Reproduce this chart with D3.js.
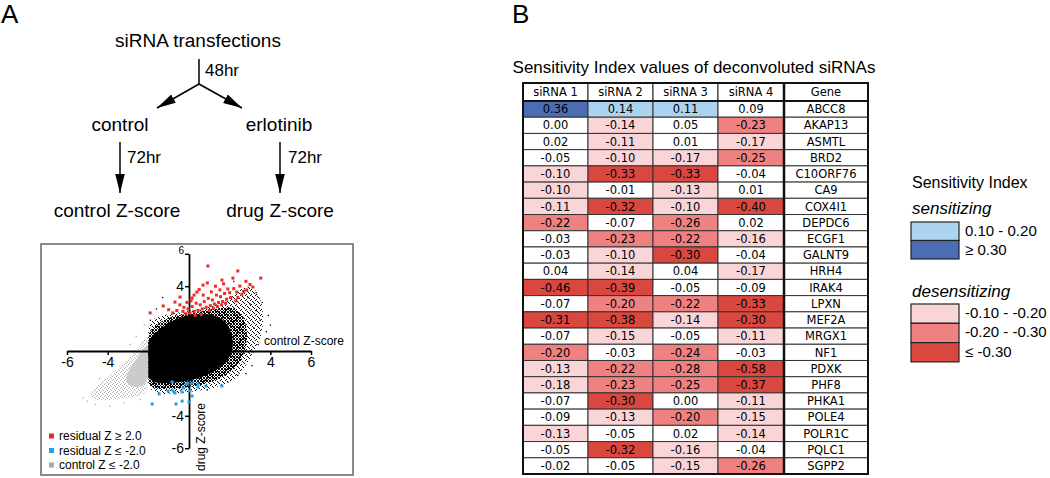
<!DOCTYPE html>
<html><head><meta charset="utf-8">
<script src="https://cdn.jsdelivr.net/npm/d3@7"></script>
<style>
html,body{margin:0;padding:0;background:#fff;}
svg{display:block;font-family:"Liberation Sans",Arial,sans-serif;}
</style></head><body>
<svg id="fig" width="1050" height="478"></svg>
<script>
// ---------------- DATA ----------------
const columns = ["siRNA 1","siRNA 2","siRNA 3","siRNA 4","Gene"];
const genes = ["ABCC8","AKAP13","ASMTL","BRD2","C10ORF76","CA9","COX4I1","DEPDC6","ECGF1","GALNT9","HRH4","IRAK4","LPXN","MEF2A","MRGX1","NF1","PDXK","PHF8","PHKA1","POLE4","POLR1C","PQLC1","SGPP2"];
const siRNA1 = [0.36,0.00,0.02,-0.05,-0.10,-0.10,-0.11,-0.22,-0.03,-0.03,0.04,-0.46,-0.07,-0.31,-0.07,-0.20,-0.13,-0.18,-0.07,-0.09,-0.13,-0.05,-0.02];
const siRNA2 = [0.14,-0.14,-0.11,-0.10,-0.33,-0.01,-0.32,-0.07,-0.23,-0.10,-0.14,-0.39,-0.20,-0.38,-0.15,-0.03,-0.22,-0.23,-0.30,-0.13,-0.05,-0.32,-0.05];
const siRNA3 = [0.11,0.05,0.01,-0.17,-0.33,-0.13,-0.10,-0.26,-0.22,-0.30,0.04,-0.05,-0.22,-0.14,-0.05,-0.24,-0.28,-0.25,0.00,-0.20,0.02,-0.16,-0.15];
const siRNA4 = [0.09,-0.23,-0.17,-0.25,-0.04,0.01,-0.40,0.02,-0.16,-0.04,-0.17,-0.09,-0.33,-0.30,-0.11,-0.03,-0.58,-0.37,-0.11,-0.15,-0.14,-0.04,-0.26];

const legendGroups = ["sensitizing","desensitizing"];
const sensLabels = ["0.10 - 0.20","\u2265 0.30"];
const desensLabels = ["-0.10 - -0.20","-0.20 - -0.30","\u2264 -0.30"];

// scatter (in Z-score units)
const xTicks = [-6,-4,-2,2,4,6];
const yTicks = [-6,-4,-2,2,4,6];
const scatterLegend = ["residual Z \u2265 2.0","residual Z \u2264 -2.0","control Z \u2264 -2.0"];
const grayOuter = [[-1.9,1.4],[-2.3,0.5],[-3.0,-0.5],[-3.8,-1.4],[-4.6,-2.2],[-5.0,-2.8],[-4.5,-3.1],[-3.5,-3.0],[-2.5,-2.8],[-1.9,-2.6]];
const grayCore = [[-1.9,0.8],[-2.4,-0.2],[-2.9,-1.0],[-3.2,-1.8],[-2.8,-2.3],[-1.9,-2.2]];
const blackOuter = [[-2.2,1.7],[-1.43,2.2],[-0.69,2.35],[0.29,2.5],[1.28,2.8],[2.0,3.2],[2.6,3.9],[3.1,4.1],[3.6,3.2],[3.7,1.6],[3.4,0.3],[2.8,-0.9],[2.3,-1.8],[1.3,-2.3],[0.05,-2.55],[-1.2,-2.7],[-2.2,-2.6]];
const blackMid = [[-2.2,1.0],[-1.5,1.8],[-0.7,2.2],[0.3,2.35],[1.3,2.6],[2.2,2.8],[2.8,2.0],[2.9,0.6],[2.6,-0.6],[2.0,-1.4],[1.1,-1.95],[0.0,-2.25],[-1.2,-2.35],[-2.2,-2.35]];
const blackCore = [[-2.2,0.5],[-1.6,1.2],[-1.0,1.75],[-0.4,2.1],[0.3,2.3],[1.0,2.3],[1.6,2.05],[2.0,1.5],[2.2,0.6],[2.1,-0.3],[1.6,-1.0],[0.9,-1.5],[0.0,-1.85],[-1.0,-2.0],[-2.2,-2.0]];
const blackOutliers = [[3.0,2.9],[3.3,2.5],[3.5,1.9],[3.2,1.4],[3.8,1.2],[2.9,3.3],[3.6,3.0],[4.0,1.6],[2.8,-1.4],[3.1,-0.9],[-1.6,2.6],[-1.9,1.9],[0.9,-2.4],[1.9,-1.9],[2.4,-1.5],[-1.3,3.3],[3.4,0.4],[3.9,2.2],[2.2,4.3],[3.3,3.6]];
const grayOutliers = [[-5.0,-3.1],[-4.6,-3.3],[-3.9,-3.4],[-5.2,-2.9],[-3.2,-3.2],[-4.4,-1.7],[-3.7,-0.6],[-2.6,0.9],[-2.2,1.6],[-2.9,0.4],[-2.4,-3.0]];
const redPoints = [[0.93,5.25],[2.40,4.94],[3.53,4.50],[1.62,4.38],[2.16,4.50],[0.69,4.07],[0.15,3.27],[-0.69,3.02],[-1.27,2.78],[-1.91,2.35],[-0.44,3.33],[0.39,3.64],[1.52,3.77],[1.91,3.83],[2.50,4.01],[3.14,3.95],[2.84,3.77],[2.35,3.64],
 [0.05,2.35],[0.25,2.45],[0.45,2.5],[0.65,2.6],[0.85,2.7],[1.05,2.8],[1.25,2.9],[1.45,3.0],[1.65,3.05],[1.85,3.2],[2.05,3.3],[0.15,2.75],[0.35,2.95],[0.55,2.85],[0.75,3.05],[0.95,3.25],[1.15,3.15],[1.35,3.45],[1.55,3.35],[1.75,3.55],[2.0,3.6],[2.2,3.85],[2.6,3.5],[-0.05,2.6],[-0.25,2.7],[-0.3,2.45],[0.25,3.45],[0.7,3.45],[1.1,3.65],[1.3,4.0],[0.9,4.2],[1.7,4.15],[2.8,4.3],[-0.6,2.5],[-0.1,3.0],[0.5,3.8],[2.4,3.3],[1.0,2.5],[0.6,2.25],[0.3,2.2],[-0.15,2.3],[1.2,2.65],[1.4,2.75],[1.6,2.85],[1.8,2.95],[0.1,3.1],[-0.45,2.85],[2.3,3.1],[2.7,3.7],[3.0,4.1],[-1.0,2.55],[-0.8,2.35]];
const bluePoints = [[-0.83,-1.91],[-0.15,-2.04],[-0.05,-1.98],[0.15,-1.98],[0.44,-2.04],[0.83,-2.16],[1.62,-2.16],[0.44,-2.22],[-1.03,-2.47],[-0.78,-2.47],[-0.69,-2.59],[-0.34,-2.53],[-0.29,-2.28],[0.05,-2.47],[-1.47,-2.65],[0.15,-2.78],[-0.34,-3.09],[0.0,-3.15],[-1.81,-3.27],[-0.64,-3.27]];

// ---------------- DRAW ----------------
const svg = d3.select("#fig");
const defs = svg.append("defs");
function pat(id, size, cells, color){
  const p = defs.append("pattern").attr("id",id).attr("width",size).attr("height",size).attr("patternUnits","userSpaceOnUse");
  cells.forEach(c=>p.append("rect").attr("x",c[0]).attr("y",c[1]).attr("width",1).attr("height",1).attr("fill",color));
}
pat("pBlkMid",3,[[0,0],[1,1],[2,2],[2,0],[0,2]],"#000");
pat("pBlkSparse",5,[[0,0],[2,1],[4,3],[1,4],[3,2]],"#000");
pat("pGray",4,[[0,0],[2,1],[1,3],[3,2]],"#b4b4b4");
const ah = defs.append("marker").attr("id","arrow").attr("viewBox","0 0 20 10").attr("refX",20).attr("refY",5)
  .attr("markerWidth",19).attr("markerHeight",11).attr("markerUnits","userSpaceOnUse").attr("orient","auto");
ah.append("path").attr("d","M0,0 L20,5 L0,10 Z").attr("fill","#000");

// Panel letters
svg.append("text").attr("x",1).attr("y",23).attr("font-size",26).text("A");
svg.append("text").attr("x",512).attr("y",23).attr("font-size",26).text("B");

// Flowchart
const fc = svg.append("g").attr("font-size",19).attr("fill","#000");
fc.append("text").attr("x",198).attr("y",47).attr("text-anchor","middle").text("siRNA transfections");
fc.append("line").attr("x1",199).attr("y1",59).attr("x2",199).attr("y2",84).attr("stroke","#000").attr("stroke-width",1.5);
fc.append("text").attr("x",205).attr("y",76).attr("font-size",17).text("48hr");
fc.append("line").attr("x1",199).attr("y1",84).attr("x2",157).attr("y2",108).attr("stroke","#000").attr("stroke-width",1.5).attr("marker-end","url(#arrow)");
fc.append("line").attr("x1",199).attr("y1",84).attr("x2",242).attr("y2",108).attr("stroke","#000").attr("stroke-width",1.5).attr("marker-end","url(#arrow)");
fc.append("text").attr("x",120).attr("y",131).attr("text-anchor","middle").text("control");
fc.append("text").attr("x",279).attr("y",131).attr("text-anchor","middle").text("erlotinib");
[[120,127],[280,288]].forEach(([lx,tx])=>{
  fc.append("line").attr("x1",lx).attr("y1",142).attr("x2",lx).attr("y2",193).attr("stroke","#000").attr("stroke-width",1.5).attr("marker-end","url(#arrow)");
  fc.append("text").attr("x",tx).attr("y",163).attr("font-size",17).text("72hr");
});
fc.append("text").attr("x",117).attr("y",217).attr("text-anchor","middle").text("control Z-score");
fc.append("text").attr("x",280).attr("y",217).attr("text-anchor","middle").text("drug Z-score");

// Scatter
const sx = d3.scaleLinear().domain([-6,6]).range([67,311]);
const sy = d3.scaleLinear().domain([-6,6]).range([448.2,253.8]);
const sc = svg.append("g");
defs.append("clipPath").attr("id","clipR").append("rect").attr("x",sx(-2)).attr("y",244).attr("width",353-sx(-2)).attr("height",231);
defs.append("clipPath").attr("id","clipL").append("rect").attr("x",41).attr("y",244).attr("width",sx(-2)-41).attr("height",231);
sc.append("rect").attr("x",41).attr("y",244).attr("width",312).attr("height",231).attr("fill","#fff").attr("stroke","#8a8a8a").attr("stroke-width",2);
const line = d3.line().x(d=>sx(d[0])).y(d=>sy(d[1])).curve(d3.curveBasisClosed);
const gL = sc.append("g").attr("clip-path","url(#clipL)");
gL.append("path").attr("d",line(grayOuter)).attr("fill","url(#pGray)");
gL.append("path").attr("d",line(grayCore)).attr("fill","#cbcbcb");
const gR = sc.append("g").attr("clip-path","url(#clipR)");
gR.append("path").attr("d",line(blackOuter)).attr("fill","url(#pBlkSparse)");
gR.append("path").attr("d",line(blackMid)).attr("fill","url(#pBlkMid)");
gR.append("path").attr("d",line(blackCore)).attr("fill","#000");
sc.selectAll(".bo").data(blackOutliers).join("rect").attr("x",d=>sx(d[0])-0.6).attr("y",d=>sy(d[1])-0.6).attr("width",1.3).attr("height",1.3).attr("fill","#000");
sc.selectAll(".go").data(grayOutliers).join("rect").attr("x",d=>sx(d[0])-0.6).attr("y",d=>sy(d[1])-0.6).attr("width",1.3).attr("height",1.3).attr("fill","#aaa");

const xAxis = d3.axisBottom(sx).tickValues(xTicks).tickFormat(d=>Math.abs(d)>=4? String(d):"").tickSize(4).tickSizeOuter(0).tickPadding(2);
const gx = sc.append("g").attr("transform",`translate(0,${sy(0)})`).call(xAxis);
gx.select(".domain").attr("stroke","#000").attr("stroke-width",1.8);
gx.selectAll(".tick line").attr("stroke","#000").attr("stroke-width",1.5);
gx.selectAll(".tick text").attr("font-size",14).attr("font-family","Liberation Sans, Arial, sans-serif").attr("fill","#000");
const yAxis = d3.axisLeft(sy).tickValues(yTicks).tickFormat(d=>Math.abs(d)>=4? String(d):"").tickSize(4).tickSizeOuter(0).tickPadding(1);
const gy = sc.append("g").attr("transform",`translate(${sx(0)},0)`).call(yAxis);
gy.select(".domain").attr("stroke","#000").attr("stroke-width",1.8);
gy.selectAll(".tick line").attr("stroke","#000").attr("stroke-width",1.5);
gy.selectAll(".tick text").attr("font-size",d=>d===6?10:14).attr("font-family","Liberation Sans, Arial, sans-serif").attr("fill","#000")
  .attr("dy",d=>d===6?"-0.05em":"0.32em");

sc.selectAll(".rp").data(redPoints).join("rect").attr("x",d=>sx(d[0])-1.5).attr("y",d=>sy(d[1])-1.5).attr("width",3).attr("height",3).attr("fill","#ee2b24");
sc.selectAll(".bp").data(bluePoints).join("rect").attr("x",d=>sx(d[0])-1.5).attr("y",d=>sy(d[1])-1.5).attr("width",3).attr("height",3).attr("fill","#1ea3ea");

sc.append("text").attr("x",344).attr("y",345).attr("text-anchor","end").attr("font-size",12).text("control Z-score");
sc.append("text").attr("transform","translate(205,437) rotate(-90)").attr("text-anchor","middle").attr("font-size",12).text("drug Z-score");
const legCols = ["#e8292a","#1ea3ea","#a8a8a8"];
scatterLegend.forEach((t,i)=>{
  const cy = 436 + i*14.5;
  sc.append("rect").attr("x",49).attr("y",cy-2.5).attr("width",5).attr("height",5).attr("fill",legCols[i]);
  sc.append("text").attr("x",59).attr("y",cy+4).attr("font-size",12).text(t);
});

// Table
const colX = [523,588,653,718,784,868];
const headTop = 83, headBot = 101;
const rowH = (474-101)/genes.length;
const color = d3.scaleThreshold().domain([-0.295,-0.195,-0.095,0.095,0.295])
  .range(["#d9473f","#ef8180","#fad5d8","#ffffff","#acd4f0","#4d6db3"]);
const tb = svg.append("g").attr("font-family","DejaVu Sans, Verdana, sans-serif").attr("font-size",11.5);
svg.append("text").attr("x",694).attr("y",73).attr("text-anchor","middle").attr("font-size",17).text("Sensitivity Index values of deconvoluted siRNAs");
columns.forEach((c,j)=>{
  tb.append("rect").attr("x",colX[j]).attr("y",headTop).attr("width",colX[j+1]-colX[j]).attr("height",headBot-headTop).attr("fill","#fff").attr("stroke","#222").attr("stroke-width",1);
  tb.append("text").attr("x",(colX[j]+colX[j+1])/2).attr("y",(headTop+headBot)/2).attr("dy","0.36em").attr("text-anchor","middle").text(c);
});
const series = [siRNA1,siRNA2,siRNA3,siRNA4];
genes.forEach((g,i)=>{
  const y0 = headBot + i*rowH;
  series.forEach((s,j)=>{
    tb.append("rect").attr("x",colX[j]).attr("y",y0).attr("width",colX[j+1]-colX[j]).attr("height",rowH).attr("fill",color(s[i])).attr("stroke","#333").attr("stroke-width",1);
    tb.append("text").attr("x",(colX[j]+colX[j+1])/2).attr("y",y0+rowH/2).attr("dy","0.36em").attr("text-anchor","middle").text(s[i].toFixed(2));
  });
  tb.append("rect").attr("x",colX[4]).attr("y",y0).attr("width",colX[5]-colX[4]).attr("height",rowH).attr("fill","#fff").attr("stroke","#333").attr("stroke-width",1);
  tb.append("text").attr("x",(colX[4]+colX[5])/2).attr("y",y0+rowH/2).attr("dy","0.36em").attr("text-anchor","middle").text(g);
});
tb.append("line").attr("x1",colX[0]).attr("x2",colX[5]).attr("y1",headBot).attr("y2",headBot).attr("stroke","#111").attr("stroke-width",2);
tb.append("line").attr("x1",colX[4]).attr("x2",colX[4]).attr("y1",headTop).attr("y2",474).attr("stroke","#111").attr("stroke-width",2.5);
tb.append("rect").attr("x",colX[0]).attr("y",headTop).attr("width",colX[5]-colX[0]).attr("height",474-headTop).attr("fill","none").attr("stroke","#111").attr("stroke-width",2);

// Legend
const lg = svg.append("g").attr("font-size",15);
lg.append("text").attr("x",912).attr("y",188).attr("font-size",16).text("Sensitivity Index");
lg.append("text").attr("x",912).attr("y",214).attr("font-style","italic").attr("font-size",17).text(legendGroups[0]);
const sensCols = ["#acd4f0","#4d6db3"];
sensLabels.forEach((t,i)=>{
  const y0 = 222 + i*18.5;
  lg.append("rect").attr("x",911).attr("y",y0).attr("width",48).attr("height",18.5).attr("fill",sensCols[i]).attr("stroke","#222").attr("stroke-width",1.2);
  lg.append("text").attr("x",965).attr("y",y0+14).text(t);
});
lg.append("text").attr("x",912).attr("y",297).attr("font-style","italic").attr("font-size",17).text(legendGroups[1]);
const desCols = ["#fad5d8","#ef8180","#d9473f"];
desensLabels.forEach((t,i)=>{
  const y0 = 304 + i*19.3;
  lg.append("rect").attr("x",911).attr("y",y0).attr("width",48).attr("height",19.3).attr("fill",desCols[i]).attr("stroke","#222").attr("stroke-width",1.2);
  lg.append("text").attr("x",965).attr("y",y0+14).text(t);
});
</script></body></html>
